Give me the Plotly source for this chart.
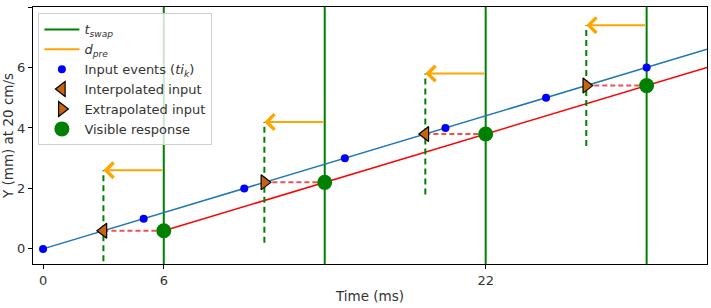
import plotly.graph_objects as go

# ---- data ----
t_swap = [6, 14, 22, 30]
input_t = [0, 5, 10, 15, 20, 25, 30]
input_y = [0, 1, 2, 3, 4, 5, 6]
sample_t = [3, 11, 19, 27]
sample_y = [0.6, 2.2, 3.8, 5.4]
sample_kind = ["interp", "extrap", "interp", "extrap"]
response_t = [6, 14, 22, 30]
response_y = [0.6, 2.2, 3.8, 5.4]
input_line_t = [0, 33]
input_line_y = [0, 6.6]
resp_line_t = [6, 33]
resp_line_y = [0.6, 6.0]
dash_half = 2.0
x_range = [-0.5, 33]
y_range = [-0.5, 8]
x_ticks = [0, 6, 22]
y_ticks = [0, 2, 4, 6, 8]

FONT = "DejaVu Sans"
TRI = "#c8640f"
TXT = "#333"
fig = go.Figure()

# t_swap vertical lines
vx, vy = [], []
for t in t_swap:
    vx += [t, t, None]
    vy += [y_range[0], y_range[1], None]
fig.add_trace(go.Scatter(x=vx, y=vy, mode="lines", line=dict(color="green", width=2),
                         name="<i>t</i><sub><i>swap</i></sub>"))
# d_pre legend entry
fig.add_trace(go.Scatter(x=[None], y=[None], mode="lines", line=dict(color="orange", width=2),
                         name="<i>d</i><sub><i>pre</i></sub>"))
# input and response lines
fig.add_trace(go.Scatter(x=input_line_t, y=input_line_y, mode="lines",
                         line=dict(color="#1f77b4", width=1.5), showlegend=False))
fig.add_trace(go.Scatter(x=resp_line_t, y=resp_line_y, mode="lines",
                         line=dict(color="red", width=1.5), showlegend=False))
# green dashed verticals
dx, dy = [], []
for t, y in zip(sample_t, sample_y):
    dx += [t, t, None]
    dy += [y - dash_half, y + dash_half, None]
fig.add_trace(go.Scatter(x=dx, y=dy, mode="lines", line=dict(color="green", width=2, dash="6px,4px"),
                         showlegend=False))
# red dashed horizontals
hx, hy = [], []
for ts, tr, y in zip(sample_t, response_t, sample_y):
    hx += [ts, tr, None]
    hy += [y, y, None]
fig.add_trace(go.Scatter(x=hx, y=hy, mode="lines", line=dict(color="#f05050", width=2, dash="5px,3px"),
                         showlegend=False))
# input events
fig.add_trace(go.Scatter(x=input_t, y=input_y, mode="markers",
                         marker=dict(color="blue", size=8),
                         name="Input events (<i>ti</i><sub><i>k</i></sub>)"))
# interpolated / extrapolated
it = [t for t, k in zip(sample_t, sample_kind) if k == "interp"]
iy = [y for y, k in zip(sample_y, sample_kind) if k == "interp"]
et = [t for t, k in zip(sample_t, sample_kind) if k == "extrap"]
ey = [y for y, k in zip(sample_y, sample_kind) if k == "extrap"]
fig.add_trace(go.Scatter(x=it, y=iy, mode="markers",
                         marker=dict(symbol="triangle-left", color=TRI, size=13,
                                     line=dict(color="black", width=1.2)),
                         name="Interpolated input"))
fig.add_trace(go.Scatter(x=et, y=ey, mode="markers",
                         marker=dict(symbol="triangle-right", color=TRI, size=13,
                                     line=dict(color="black", width=1.2)),
                         name="Extrapolated input"))
fig.add_trace(go.Scatter(x=response_t, y=response_y, mode="markers",
                         marker=dict(color="green", size=15),
                         name="Visible response"))

# orange arrows
for ts, tr, y in zip(sample_t, t_swap, sample_y):
    fig.add_annotation(x=ts, y=y + dash_half, ax=tr, ay=y + dash_half,
                       xref="x", yref="y", axref="x", ayref="y", text="",
                       showarrow=True, arrowhead=4, arrowsize=1.5, arrowwidth=2,
                       arrowcolor="orange", standoff=0, startstandoff=0)

axis_common = dict(showgrid=False, zeroline=False, showline=True, linecolor="black",
                   linewidth=1, mirror=True, ticks="outside", ticklen=4, tickcolor="black",
                   tickfont=dict(family=FONT, size=13, color=TXT))
fig.update_xaxes(range=x_range, tickvals=x_ticks, **axis_common,
                 title=dict(text="Time (ms)", font=dict(family=FONT, size=13.5, color=TXT), standoff=4))
fig.update_yaxes(range=y_range, tickvals=y_ticks, **axis_common,
                 title=dict(text="Y (mm) at 20 cm/s", font=dict(family=FONT, size=13.5, color=TXT), standoff=2))

fig.update_layout(
    width=711, height=308,
    margin=dict(l=33, r=4, t=7, b=44),
    plot_bgcolor="white", paper_bgcolor="white",
    font=dict(family=FONT, size=13, color=TXT),
    legend=dict(x=0.008, y=0.975, xanchor="left", yanchor="top",
                bgcolor="rgba(255,255,255,0.8)", bordercolor="#d0d0d0", borderwidth=1,
                font=dict(family=FONT, size=13, color=TXT),
                itemwidth=35, tracegroupgap=0),
)

fig.write_html("out.html")
